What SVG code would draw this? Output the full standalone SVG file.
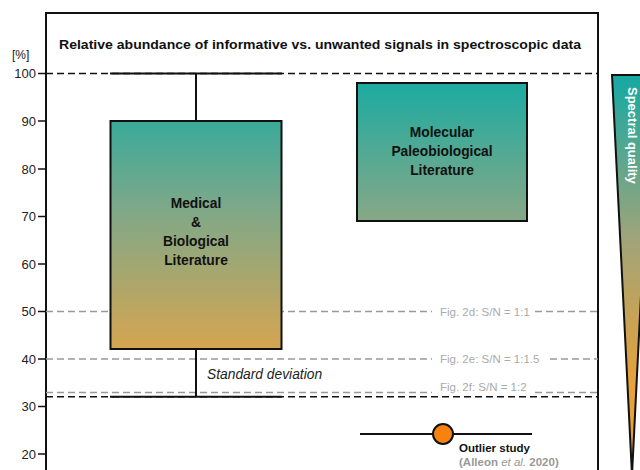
<svg xmlns="http://www.w3.org/2000/svg" width="640" height="470" viewBox="0 0 640 470">
<style>
text{font-family:"Liberation Sans",Arial,sans-serif}
.tick{font-size:13px;fill:#222;text-anchor:end}
.lbl{font-size:13.8px;font-weight:bold;fill:#111;text-anchor:middle}
.gd{stroke:#999;stroke-width:1.5;stroke-dasharray:7 4;fill:none}
.bd{stroke:#111;stroke-width:1.5;stroke-dasharray:7 4;fill:none}
.ln{stroke:#111;stroke-width:2;fill:none}
.fig{font-size:11.5px;fill:#aaa}
</style>
<defs>
<linearGradient id="boxg" gradientUnits="userSpaceOnUse" x1="0" y1="73" x2="0" y2="350">
<stop offset="0" stop-color="#14aba3"/>
<stop offset="0.5" stop-color="#80a888"/>
<stop offset="1" stop-color="#d6a550"/>
</linearGradient>
<linearGradient id="trig" gradientUnits="userSpaceOnUse" x1="0" y1="75" x2="0" y2="440">
<stop offset="0" stop-color="#14a9a3"/>
<stop offset="0.45" stop-color="#a0a47a"/>
<stop offset="0.85" stop-color="#e8a238"/>
<stop offset="1" stop-color="#e8a238"/>
</linearGradient>
</defs>

<g id="frame">
<rect x="46" y="13" width="552" height="470" fill="#fff" stroke="#111" stroke-width="2"/>
<text x="59" y="49" font-size="12.5" font-weight="bold" fill="#111" textLength="522" lengthAdjust="spacingAndGlyphs">Relative abundance of informative vs. unwanted signals in spectroscopic data</text>
</g>

<g id="axis">
<text x="12" y="59" font-size="12" fill="#222">[%]</text>
<g stroke="#111" stroke-width="1.5">
<line x1="38" y1="73.5" x2="46" y2="73.5"/>
<line x1="38" y1="121" x2="46" y2="121"/>
<line x1="38" y1="169" x2="46" y2="169"/>
<line x1="38" y1="216.5" x2="46" y2="216.5"/>
<line x1="38" y1="264" x2="46" y2="264"/>
<line x1="38" y1="311.5" x2="46" y2="311.5"/>
<line x1="38" y1="359" x2="46" y2="359"/>
<line x1="38" y1="406.5" x2="46" y2="406.5"/>
<line x1="38" y1="454" x2="46" y2="454"/>
</g>
<text class="tick" x="36" y="78">100</text>
<text class="tick" x="36" y="125.5">90</text>
<text class="tick" x="36" y="173.5">80</text>
<text class="tick" x="36" y="221">70</text>
<text class="tick" x="36" y="268.5">60</text>
<text class="tick" x="36" y="316">50</text>
<text class="tick" x="36" y="363.5">40</text>
<text class="tick" x="36" y="411">30</text>
<text class="tick" x="36" y="458.5">20</text>
</g>

<g id="connectors">
<line class="bd" x1="46" y1="73.5" x2="598" y2="73.5"/>
<path class="gd" d="M46 311.5H432M535 311.5H598"/>
<path class="gd" d="M46 359H432M550 359H598"/>
<path class="gd" d="M46 392.5H432M535 392.5H598"/>
<line class="bd" x1="46" y1="396.8" x2="598" y2="396.8"/>
<line class="ln" x1="110" y1="73.5" x2="282" y2="73.5"/>
<line class="ln" x1="196" y1="73.5" x2="196" y2="121"/>
<line class="ln" x1="196" y1="349" x2="196" y2="396.8"/>
<line class="ln" x1="110" y1="396.8" x2="282" y2="396.8"/>
<line class="ln" x1="360" y1="434" x2="532" y2="434"/>
</g>

<g id="fig-labels">
<text class="fig" x="440" y="315.5">Fig. 2d: S/N = 1:1</text>
<text class="fig" x="440" y="363">Fig. 2e: S/N = 1:1.5</text>
<text class="fig" x="440" y="391">Fig. 2f: S/N = 1:2</text>
</g>

<g id="medical">
<rect x="110.5" y="121" width="171" height="228" fill="url(#boxg)" stroke="#111" stroke-width="2"/>
<text class="lbl" x="196" y="208">Medical</text>
<text class="lbl" x="196" y="227">&amp;</text>
<text class="lbl" x="196" y="246">Biological</text>
<text class="lbl" x="196" y="265">Literature</text>
</g>

<g id="molecular">
<rect x="357" y="83" width="170" height="138" fill="url(#boxg)" stroke="#111" stroke-width="2"/>
<text class="lbl" x="442" y="137">Molecular</text>
<text class="lbl" x="442" y="156">Paleobiological</text>
<text class="lbl" x="442" y="175">Literature</text>
</g>

<g id="stddev">
<text x="207" y="378.5" font-size="13.8" font-style="italic" fill="#222">Standard deviation</text>
</g>

<g id="outlier">
<circle cx="443" cy="434" r="10" fill="#f7820e" stroke="#111" stroke-width="2"/>
<text x="459" y="451.5" font-size="11.5" font-weight="bold" fill="#111">Outlier study</text>
<text x="459" y="465.5" font-size="11.5" font-weight="bold" fill="#999">(Alleon <tspan font-style="italic" font-weight="normal">et al.</tspan> 2020)</text>
</g>

<g id="spectral-quality">
<polygon points="612,75 652,75 632,475" fill="url(#trig)" stroke="#111" stroke-width="2" stroke-linejoin="miter"/>
<text transform="translate(627.5,87) rotate(90)" font-size="13" font-weight="bold" fill="#fff">Spectral quality</text>
</g>
</svg>
